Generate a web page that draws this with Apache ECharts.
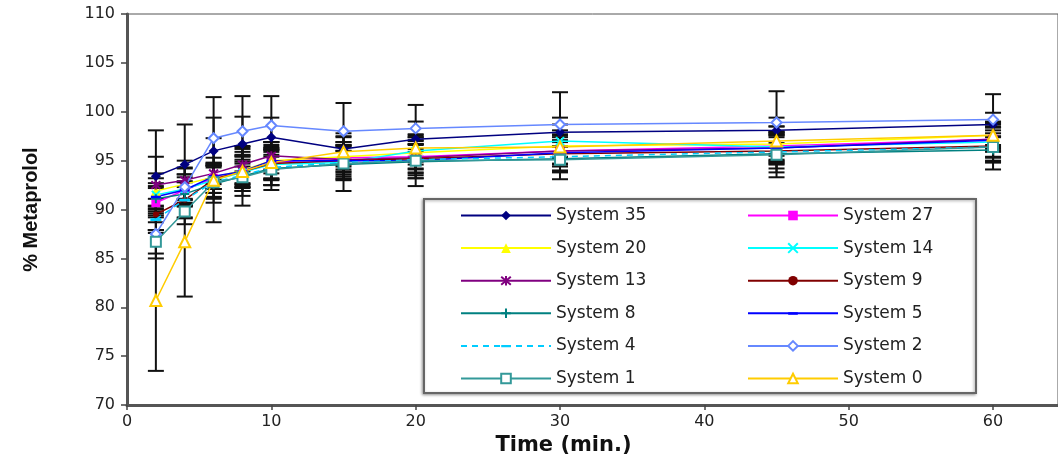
<!DOCTYPE html>
<html><head><meta charset="utf-8">
<script src="https://cdn.jsdelivr.net/npm/echarts@6/dist/echarts.min.js"></script>
<style>html,body{margin:0;padding:0;background:#fff}#c{width:1058px;height:461px}</style>
</head><body><div id="c"></div>
<script>
const times = [2, 4, 6, 8, 10, 15, 20, 30, 45, 60];
const xTicks = [0, 10, 20, 30, 40, 50, 60];
const names = ['System 35','System 27','System 20','System 14','System 13','System 9','System 8','System 5','System 4','System 2','System 1','System 0'];
const s35 = [93.4, 94.6, 96.0, 96.7, 97.4, 96.2, 97.2, 97.9, 98.1, 98.7];
const s27 = [90.7, 92.0, 93.2, 93.9, 94.8, 95.3, 95.4, 96.0, 96.5, 97.2];
const s20 = [91.9, 92.6, 93.3, 94.0, 95.0, 95.4, 95.8, 96.5, 96.7, 97.6];
const s14 = [91.5, 92.1, 93.0, 93.8, 94.6, 94.8, 96.0, 97.0, 96.4, 96.9];
const s13 = [92.5, 93.0, 93.7, 94.6, 95.5, 95.1, 95.3, 96.0, 96.3, 97.2];
const s9  = [89.5, 91.0, 93.1, 93.9, 94.7, 95.0, 95.2, 95.7, 96.0, 96.5];
const s8  = [91.1, 91.6, 92.6, 93.4, 94.2, 94.6, 94.9, 95.2, 95.7, 96.1];
const s5  = [91.3, 92.0, 93.4, 93.9, 95.0, 95.0, 95.0, 95.8, 96.3, 97.1];
const s4  = [89.0, 91.0, 92.8, 93.5, 94.3, 94.8, 95.1, 95.4, 95.9, 96.4];
const s2  = [87.5, 92.3, 97.3, 98.0, 98.6, 98.0, 98.3, 98.7, 98.9, 99.2];
const s1  = [86.7, 89.8, 92.8, 93.3, 94.1, 94.7, 95.0, 95.1, 95.6, 96.4];
const s0  = [80.7, 86.7, 93.0, 93.9, 94.8, 95.9, 96.3, 96.4, 97.0, 97.6];
// standard deviations (error bars)
const e35 = [4.7, 4.1, 3.4, 2.8, 2.0, 1.6, 1.8, 1.5, 1.3, 1.2];
const e27 = [1.5, 1.3, 1.5, 1.7, 1.6, 1.2, 1.3, 1.6, 1.5, 1.3];
const e20 = [1.8, 1.6, 1.2, 1.4, 1.9, 1.5, 1.6, 1.2, 1.8, 1.4];
const e14 = [1.2, 1.5, 1.8, 1.3, 1.5, 1.8, 1.4, 1.7, 1.3, 1.5];
const e13 = [2.9, 2.0, 1.6, 1.9, 1.4, 1.3, 1.8, 1.4, 1.6, 1.2];
const e9  = [1.6, 1.8, 1.4, 1.6, 2.2, 1.6, 1.5, 1.9, 1.4, 1.6];
const e8  = [1.3, 1.2, 1.9, 1.5, 1.7, 1.4, 1.7, 1.3, 1.9, 1.3];
const e5  = [1.9, 1.6, 1.3, 2.0, 1.3, 1.9, 1.2, 1.8, 1.5, 1.8];
const e4  = [1.4, 1.9, 1.7, 1.2, 1.8, 1.2, 1.9, 1.5, 1.7, 1.4];
const e2  = [2.5, 2.0, 4.2, 3.6, 3.0, 2.9, 2.4, 3.3, 3.2, 2.6];
const e1  = [1.2, 1.3, 1.5, 2.9, 2.1, 2.8, 2.6, 2.0, 2.3, 2.3];
const e0  = [7.2, 5.6, 4.3, 2.5, 1.8, 1.5, 1.4, 1.7, 1.5, 1.2];

const values = [s35, s27, s20, s14, s13, s9, s8, s5, s4, s2, s1, s0];
const errs = [e35, e27, e20, e14, e13, e9, e8, e5, e4, e2, e1, e0];

const X = 'path://M0,0L10,10M10,0L0,10';
const STAR = 'path://M0,0L10,10M10,0L0,10M5,-1L5,11';
const PLUS = 'path://M5,0L5,10M0,5L10,5';
const DASH = 'path://M0,4L10,4L10,6.5L0,6.5Z M5,0L5.01,0Z M5,10L5.01,10Z';
const styles = [
  {color:'#000080', symbol:'diamond', size:10, fill:'#000080'},
  {color:'#FF00FF', symbol:'rect', size:9, fill:'#FF00FF'},
  {color:'#FFFF00', symbol:'triangle', size:10, fill:'#FFFF00'},
  {color:'#00FFFF', symbol:X, size:8, fill:'none', stroke:true},
  {color:'#800080', symbol:STAR, size:9, fill:'none', stroke:true},
  {color:'#800000', symbol:'circle', size:6, fill:'#800000'},
  {color:'#008080', symbol:PLUS, size:9, fill:'none', stroke:true},
  {color:'#0000FF', symbol:DASH, size:10, fill:'#0000FF'},
  {color:'#00CCFF', symbol:DASH, size:11, fill:'#00CCFF', dashed:true},
  {color:'#6688FF', symbol:'diamond', size:10, fill:'#ffffff', open:true},
  {color:'#339999', symbol:'rect', size:10, fill:'#ffffff', open:true},
  {color:'#FFCC00', symbol:'triangle', size:11, fill:'#ffffff', open:true}
];

const series = names.map((n, i) => {
  const st = styles[i];
  return {
    name: n, type: 'line', z: 3,
    data: times.map((t, j) => [t, values[i][j]]),
    symbol: st.symbol, symbolSize: st.size,
    lineStyle: {color: st.color, width: 1.5, type: st.dashed ? [6, 5] : 'solid'},
    itemStyle: {
      color: st.fill,
      borderColor: st.color,
      borderWidth: (st.open || st.stroke) ? 2 : 0
    },
    animation: false
  };
});

const errData = [];
names.forEach((n, i) => {
  times.forEach((t, j) => {
    errData.push([t, values[i][j] - errs[i][j], values[i][j] + errs[i][j]]);
  });
});

series.unshift({
  type: 'custom', name: 'err', z: 2, silent: true, animation: false,
  data: errData,
  encode: {x: 0, y: [1, 2]},
  renderItem: function (params, api) {
    const lo = api.coord([api.value(0), api.value(1)]);
    const hi = api.coord([api.value(0), api.value(2)]);
    const w = 8;
    const s = {stroke: '#111', lineWidth: 2};
    return {type: 'group', children: [
      {type: 'line', shape: {x1: lo[0], y1: lo[1], x2: hi[0], y2: hi[1]}, style: s},
      {type: 'line', shape: {x1: lo[0]-w, y1: lo[1], x2: lo[0]+w, y2: lo[1]}, style: s},
      {type: 'line', shape: {x1: hi[0]-w, y1: hi[1], x2: hi[0]+w, y2: hi[1]}, style: s}
    ]};
  }
});

const legendText = {fontFamily: 'DejaVu Sans', fontSize: 17, color: '#222', lineHeight: 16};
const leftNames = names.filter((n, i) => i % 2 === 0);
const rightNames = names.filter((n, i) => i % 2 === 1);

const chart = echarts.init(document.getElementById('c'));
chart.setOption({
  backgroundColor: '#fff',
  animation: false,
  grid: {left: 127, right: 0, top: 14, bottom: 54, show: true, borderColor: '#555', borderWidth: 1},
  graphic: [{
    type: 'rect', z: 1, left: 423, top: 198,
    shape: {width: 552, height: 194},
    style: {fill: '#fff', stroke: '#666', lineWidth: 2, shadowColor: 'rgba(0,0,0,0.35)', shadowBlur: 3, shadowOffsetX: -1, shadowOffsetY: 1}
  }],
  legend: [
    {data: leftNames, orient: 'vertical', left: 455, top: 202, itemWidth: 90, itemHeight: 12, itemGap: 15.6,
     textStyle: legendText, selectedMode: false, z: 5},
    {data: rightNames, orient: 'vertical', left: 742, top: 202, itemWidth: 90, itemHeight: 12, itemGap: 15.6,
     textStyle: legendText, selectedMode: false, z: 5}
  ],
  xAxis: {
    type: 'value', min: 0, max: 64.5, interval: 10,
    name: 'Time (min.)', nameLocation: 'middle', nameGap: 22,
    nameTextStyle: {fontFamily: 'DejaVu Sans', fontWeight: 'bold', fontSize: 21, color: '#111', padding: [0, 58, 0, 0]},
    axisLine: {show: true, lineStyle: {color: '#555', width: 3}},
    axisTick: {show: true, length: 5, inside: false, customValues: xTicks, lineStyle: {color: '#444', width: 1.5}},
    axisLabel: {customValues: xTicks, margin: 9, fontFamily: 'DejaVu Sans', fontSize: 16, color: '#222'},
    splitLine: {show: false}
  },
  yAxis: {
    type: 'value', min: 70, max: 110, interval: 5,
    name: '% Metaprolol', nameLocation: 'middle', nameGap: 86, nameRotate: 90,
    nameTextStyle: {fontFamily: 'Liberation Sans', fontWeight: 'bold', fontSize: 20, color: '#111'},
    axisLine: {show: true, lineStyle: {color: '#555', width: 3}},
    axisTick: {show: true, length: 6, inside: false, lineStyle: {color: '#444', width: 1.5}},
    axisLabel: {margin: 12, fontFamily: 'DejaVu Sans', fontSize: 16, color: '#222'},
    splitLine: {show: false}
  },
  series: series
});
</script></body></html>
